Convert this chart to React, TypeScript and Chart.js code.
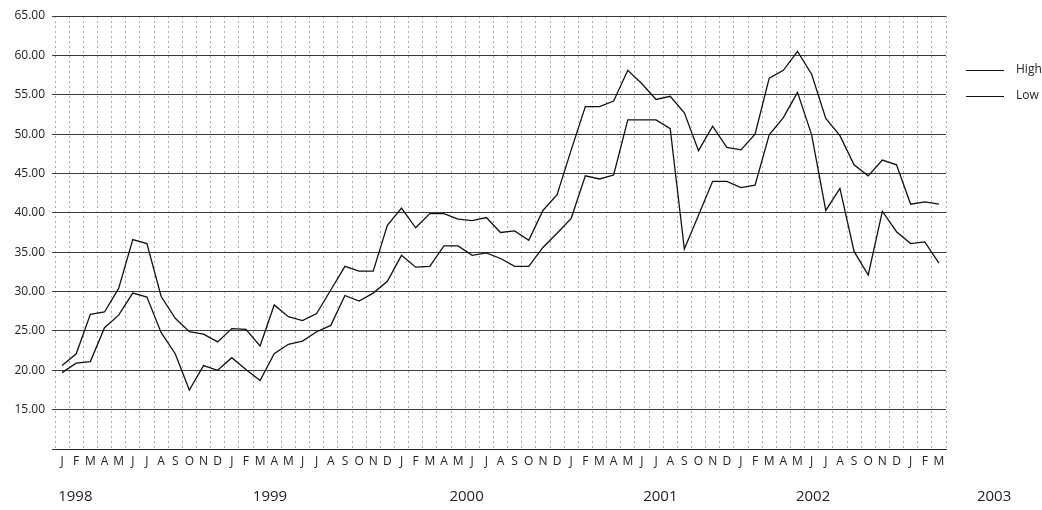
import React, { useEffect, useRef } from "react";
import { Chart, registerables } from "chart.js";

Chart.register(...registerables);

const monthLetters = ["J", "F", "M", "A", "M", "J", "J", "A", "S", "O", "N", "D"];
const categories: string[] = [
  ...monthLetters, ...monthLetters, ...monthLetters, ...monthLetters, ...monthLetters,
  "J", "F", "M",
];

const highValues = [
  20.6, 22.1, 27.1, 27.4, 30.4, 36.6, 36.1, 29.4, 26.6, 24.9, 24.6, 23.6,
  25.3, 25.2, 23.1, 28.3, 26.8, 26.3, 27.2, 30.2, 33.2, 32.6, 32.6, 38.4,
  40.6, 38.1, 39.9, 39.9, 39.2, 39.0, 39.4, 37.5, 37.7, 36.5, 40.3, 42.3,
  48.0, 53.5, 53.5, 54.2, 58.1, 56.4, 54.4, 54.8, 52.7, 47.9, 51.0, 48.3,
  48.0, 50.0, 57.1, 58.1, 60.5, 57.6, 52.0, 49.8, 46.1, 44.7, 46.7, 46.1,
  41.1, 41.4, 41.1,
];

const lowValues = [
  19.7, 20.9, 21.1, 25.4, 27.0, 29.8, 29.3, 24.8, 22.1, 17.5, 20.6, 20.0,
  21.6, 20.1, 18.7, 22.1, 23.3, 23.7, 24.9, 25.7, 29.5, 28.8, 29.8, 31.3,
  34.6, 33.1, 33.2, 35.8, 35.8, 34.6, 34.9, 34.2, 33.2, 33.2, 35.6, 37.4,
  39.3, 44.7, 44.3, 44.8, 51.8, 51.8, 51.8, 50.7, 35.4, 39.7, 44.0, 44.0,
  43.2, 43.5, 49.9, 52.1, 55.3, 49.9, 40.3, 43.1, 35.1, 32.1, 40.2, 37.6,
  36.1, 36.3, 33.6,
];

const yearLabels = ["1998", "1999", "2000", "2001", "2002", "2003"];
// anchor of each year label, in category-index units along the x scale
const yearAnchors = [0.94, 14.7, 28.6, 42.3, 53.1, 65.9];

const FONT = "'Open Sans', 'DejaVu Sans', sans-serif";

const extrasPlugin = {
  id: "extras",
  afterDraw(chart: any) {
    const { ctx, chartArea } = chart;
    const x = chart.scales.x;
    ctx.save();
    // year labels
    ctx.fillStyle = "#222";
    ctx.font = `15px ${FONT}`;
    ctx.textAlign = "center";
    ctx.textBaseline = "middle";
    yearLabels.forEach((lab, i) => {
      ctx.fillText(lab, x.getPixelForValue(yearAnchors[i]), chartArea.bottom + 48);
    });
    // legend
    chart.data.datasets.forEach((ds: any, i: number) => {
      const y = chartArea.top + 54 + i * 26;
      ctx.strokeStyle = ds.borderColor;
      ctx.lineWidth = 1;
      ctx.setLineDash([]);
      ctx.beginPath();
      ctx.moveTo(chartArea.right + 20, y + 0.5);
      ctx.lineTo(chartArea.right + 58, y + 0.5);
      ctx.stroke();
      ctx.fillStyle = "#222";
      ctx.font = `12px ${FONT}`;
      ctx.textAlign = "left";
      ctx.textBaseline = "middle";
      ctx.fillText(ds.label, chartArea.right + 70, y);
    });
    ctx.restore();
  },
};

export default function App() {
  const canvasRef = useRef<HTMLCanvasElement | null>(null);

  useEffect(() => {
    if (!canvasRef.current) return;
    const chart = new Chart(canvasRef.current, {
      type: "line",
      data: {
        labels: categories,
        datasets: [
          {
            label: "High",
            data: highValues,
            borderColor: "#111111",
            borderWidth: 1.3,
            pointRadius: 0,
            tension: 0,
            fill: false,
          },
          {
            label: "Low",
            data: lowValues,
            borderColor: "#111111",
            borderWidth: 1.3,
            pointRadius: 0,
            tension: 0,
            fill: false,
          },
        ],
      },
      options: {
        responsive: false,
        animation: false,
        devicePixelRatio: 1,
        layout: { padding: { top: 16, right: 96, bottom: 0, left: 0 } },
        plugins: {
          legend: { display: false },
          tooltip: { enabled: false },
        },
        scales: {
          x: {
            type: "category",
            offset: true,
            grid: {
              offset: true,
              color: "#aaaaaa",
              lineWidth: 1,
              drawTicks: false,
            },
            border: { display: true, color: "#222222", width: 1, dash: [2, 3] },
            ticks: {
              autoSkip: false,
              maxRotation: 0,
              minRotation: 0,
              padding: 5,
              color: "#222",
              font: { family: FONT, size: 12 },
            },
            afterFit: (s: any) => {
              s.height = 61;
            },
          },
          y: {
            min: 10,
            max: 65,
            grid: {
              color: "#3a3a3a",
              lineWidth: 1,
              drawTicks: true,
              tickLength: 3,
            },
            border: { display: false },
            ticks: {
              stepSize: 5,
              padding: 7,
              color: "#222",
              font: { family: FONT, size: 12 },
              callback: (v: any) => (Number(v) === 10 ? "" : Number(v).toFixed(2)),
            },
            afterFit: (s: any) => {
              s.width = 55;
            },
          },
        },
      },
      plugins: [extrasPlugin],
    });
    return () => chart.destroy();
  }, []);

  return (
    <div style={{ position: "absolute", left: 0, top: 0, width: 1042, height: 510, background: "#fff" }}>
      <canvas ref={canvasRef} width={1042} height={510} />
    </div>
  );
}
